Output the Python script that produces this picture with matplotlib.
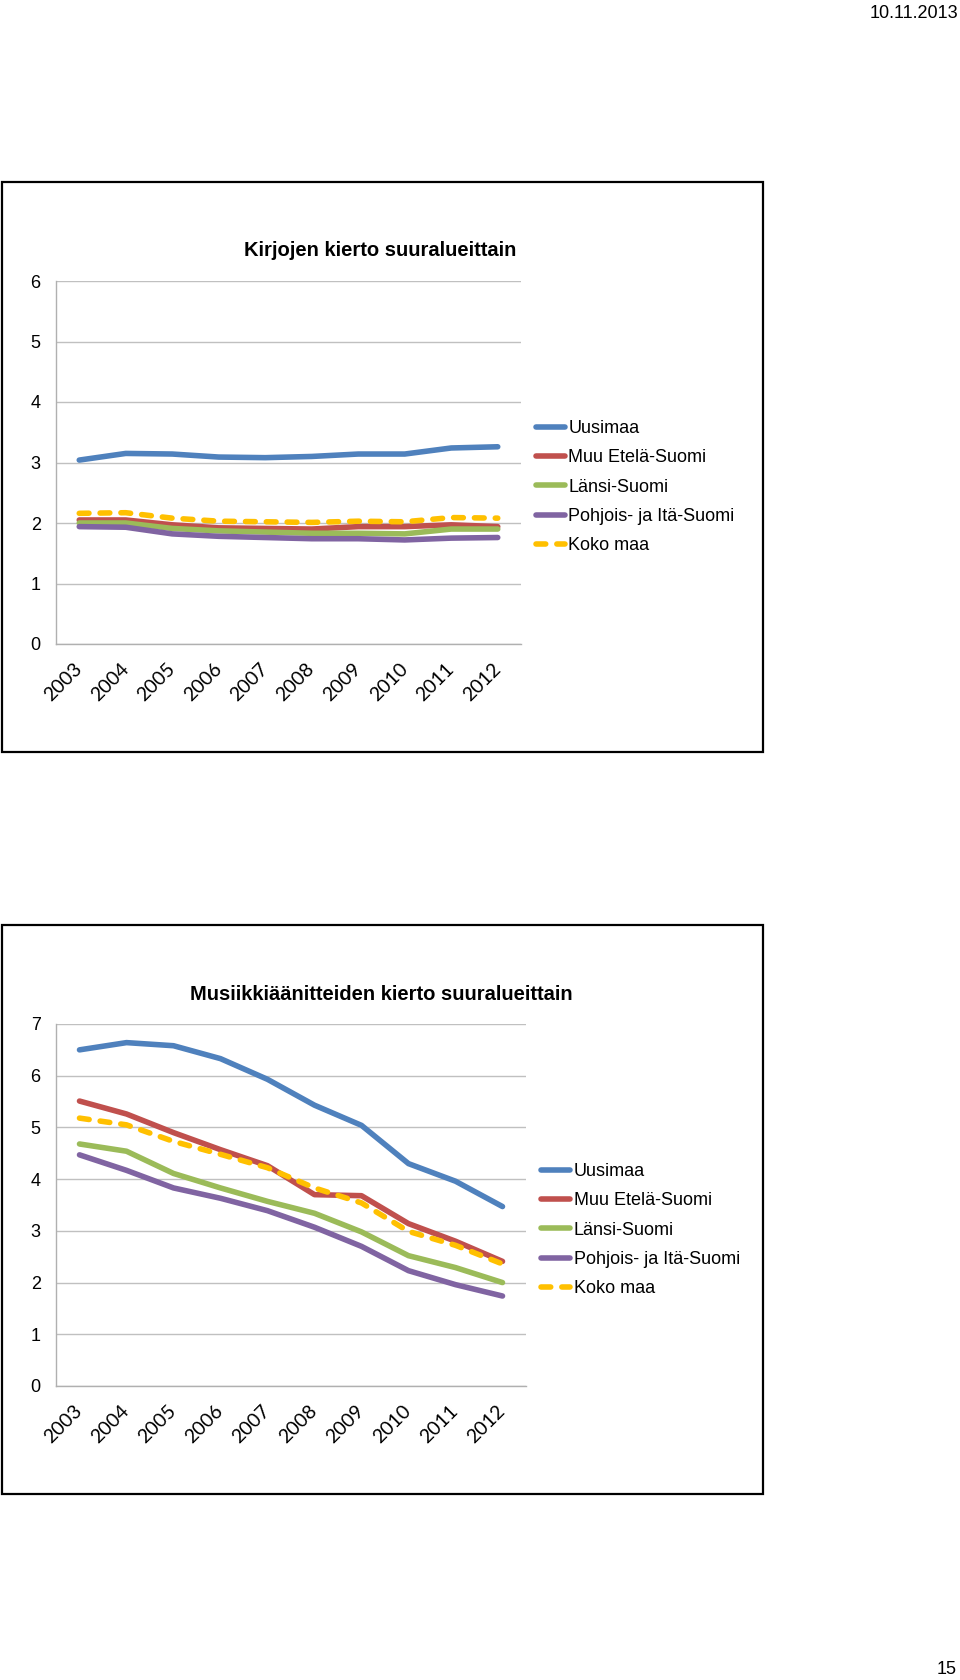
import matplotlib

matplotlib.use("Agg")
import matplotlib.pyplot as plt
from matplotlib.patches import Rectangle

plt.rcParams["font.family"] = ["Liberation Sans Narrow", "Liberation Sans", "DejaVu Sans"]

years = ["2003", "2004", "2005", "2006", "2007", "2008", "2009", "2010", "2011", "2012"]
series_names = ["Uusimaa", "Muu Etelä-Suomi", "Länsi-Suomi", "Pohjois- ja Itä-Suomi", "Koko maa"]

# Kirjojen kierto
books_uusimaa = [3.04, 3.15, 3.14, 3.09, 3.08, 3.10, 3.14, 3.14, 3.24, 3.26]
books_muu_etela = [2.05, 2.05, 1.97, 1.92, 1.91, 1.90, 1.94, 1.94, 1.97, 1.94]
books_lansi = [2.00, 2.00, 1.91, 1.87, 1.85, 1.83, 1.83, 1.82, 1.90, 1.90]
books_pohjois_ita = [1.94, 1.93, 1.82, 1.78, 1.76, 1.74, 1.74, 1.72, 1.75, 1.76]
books_koko_maa = [2.16, 2.17, 2.08, 2.03, 2.02, 2.01, 2.03, 2.02, 2.09, 2.08]

# Musiikkiäänitteiden kierto
music_uusimaa = [6.50, 6.64, 6.58, 6.33, 5.93, 5.43, 5.04, 4.30, 3.96, 3.47]
music_muu_etela = [5.51, 5.26, 4.90, 4.57, 4.26, 3.70, 3.68, 3.14, 2.80, 2.41]
music_lansi = [4.68, 4.54, 4.11, 3.83, 3.57, 3.34, 2.98, 2.52, 2.29, 2.00]
music_pohjois_ita = [4.47, 4.17, 3.83, 3.63, 3.39, 3.07, 2.70, 2.23, 1.96, 1.74]
music_koko_maa = [5.18, 5.05, 4.73, 4.48, 4.22, 3.83, 3.54, 2.99, 2.72, 2.36]

COLORS = ["#4F81BD", "#C0504D", "#9BBB59", "#8064A2", "#FFC000"]
W, H = 960, 1680


def fx(px):
    return px / W


def fy(py):
    return 1 - py / H


def draw_chart(fig, left, top, right, bottom, title, title_xy, data, ymax, legend_xy):
    ax = fig.add_axes([fx(left), fy(bottom), (right - left) / W, (bottom - top) / H])
    x = range(len(years))
    for i, (name, vals) in enumerate(zip(series_names, data)):
        if name == "Koko maa":
            ax.plot(x, vals, color=COLORS[i], lw=4.0, dashes=(1.75, 2.0),
                    dash_capstyle="round", label=name, zorder=3)
        else:
            ax.plot(x, vals, color=COLORS[i], lw=4.0, solid_capstyle="round",
                    solid_joinstyle="round", label=name, zorder=2)
    ax.set_xlim(-0.5, len(years) - 0.5)
    ax.set_ylim(0, ymax)
    ax.set_yticks(range(ymax + 1))
    ax.grid(axis="y", color="#C0C0C0", lw=1.0)
    ax.set_axisbelow(True)
    for s in ("top", "right"):
        ax.spines[s].set_visible(False)
    for s in ("left", "bottom"):
        ax.spines[s].set_color("#B0B0B0")
        ax.spines[s].set_linewidth(1.0)
    ax.tick_params(length=0, labelsize=13)
    ax.tick_params(axis="y", pad=11)
    ax.set_xticks(list(x))
    ax.set_xticklabels(years, rotation=45, ha="right", va="center",
                       rotation_mode="anchor", fontsize=14,
                       family=["Lato", "DejaVu Sans"])
    ax.tick_params(axis="x", pad=16)
    fig.text(fx(title_xy[0]), fy(title_xy[1]), title,
             ha="center", va="center", fontsize=14.5, fontweight="bold")
    ax.legend(loc="upper left", bbox_to_anchor=(fx(legend_xy[0]), fy(legend_xy[1])),
              bbox_transform=fig.transFigure, frameon=False, fontsize=13,
              handlelength=1.6, handletextpad=0.2, labelspacing=0.68,
              borderpad=0, borderaxespad=0)
    return ax


fig = plt.figure(figsize=(W / 100, H / 100), dpi=100)

# page frames
for top, bottom in ((182, 752), (925, 1494)):
    fig.patches.append(Rectangle((fx(2), fy(bottom)), fx(763 - 2), (bottom - top) / H,
                                 transform=fig.transFigure, fill=False,
                                 edgecolor="black", lw=1.6))

draw_chart(fig, 56, 281, 521, 644,
           "Kirjojen kierto suuralueittain", (380, 251),
           [books_uusimaa, books_muu_etela, books_lansi, books_pohjois_ita, books_koko_maa],
           6, (536, 420))

draw_chart(fig, 56, 1024, 526, 1386,
           "Musiikkiäänitteiden kierto suuralueittain", (381, 995),
           [music_uusimaa, music_muu_etela, music_lansi, music_pohjois_ita, music_koko_maa],
           7, (541, 1163))

fig.text(fx(958), fy(13), "10.11.2013", ha="right", va="center", fontsize=13,
         family=["Liberation Sans", "DejaVu Sans"])
fig.text(fx(957), fy(1670), "15", ha="right", va="center", fontsize=13,
         family=["Liberation Sans", "DejaVu Sans"])

fig.savefig("out.png", dpi=100)
